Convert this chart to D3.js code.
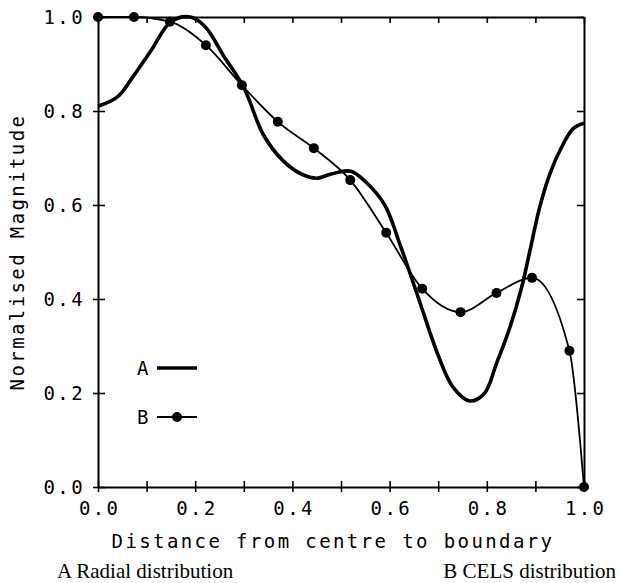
<!DOCTYPE html>
<html>
<head>
<meta charset="utf-8">
<script src="https://cdn.jsdelivr.net/npm/d3@7"></script>
<style>
    body { margin: 0; background: #fff; }
    svg { display: block; }
    .mono { font-family: "DejaVu Sans Mono", monospace; font-size: 19px; letter-spacing: 2.4px; fill: #000; }
    .cap { font-family: "Liberation Serif", "Times New Roman", serif; font-size: 21px; fill: #000; }
</style>
</head>
<body>
<div id="chart"></div>
<script>
// curve A - radial distribution (thick line)
const radialX = [0, 0.04, 0.07, 0.11, 0.15, 0.19, 0.22, 0.26, 0.30, 0.34, 0.38, 0.42, 0.45, 0.48, 0.52, 0.55, 0.59, 0.62, 0.66, 0.70, 0.73, 0.765, 0.795, 0.82, 0.848, 0.872, 0.889, 0.909, 0.93, 0.951, 0.978, 1.0]
const radialY = [0.81, 0.83, 0.87, 0.93, 0.99, 1.0, 0.98, 0.915, 0.85, 0.75, 0.695, 0.665, 0.657, 0.666, 0.672, 0.65, 0.60, 0.52, 0.40, 0.28, 0.213, 0.183, 0.199, 0.263, 0.341, 0.426, 0.504, 0.596, 0.667, 0.717, 0.763, 0.774]
// curve B - CELS distribution (thin line with dots)
const celsX = [0, 0.074, 0.148, 0.222, 0.296, 0.370, 0.444, 0.519, 0.593, 0.667, 0.746, 0.820, 0.893, 0.970, 1.0]
const celsY = [1.0, 1.0, 0.99, 0.94, 0.855, 0.777, 0.721, 0.653, 0.541, 0.422, 0.372, 0.413, 0.445, 0.290, 0.0]

const xTicks = [0, 0.1, 0.2, 0.3, 0.4, 0.5, 0.6, 0.7, 0.8, 0.9, 1.0]
const yTicks = [0, 0.2, 0.4, 0.6, 0.8, 1.0]
const legendLabels = ["A", "B"]

const drawChart = () => {
    const width = 620, height = 583
    const margin = ({ top: 17, right: 36, bottom: 96, left: 98 })

    const svg = d3.select("#chart").append("svg")
        .attr("width", width)
        .attr("height", height)

    const x = d3.scaleLinear()
        .domain([0, 1])
        .range([margin.left, width - margin.right])

    const y = d3.scaleLinear()
        .domain([0, 1])
        .range([height - margin.bottom, margin.top])

    const fmt = d => Math.round(d * 10) % 2 === 0 ? d3.format(".1f")(d) : ""

    // bottom axis, ticks cross the line
    svg.append("g")
        .attr("transform", `translate(0,${y(0)})`)
        .call(d3.axisBottom(x).tickValues(xTicks).tickFormat(fmt).tickSizeOuter(0))
        .call(g => g.selectAll(".tick line").attr("y1", -6).attr("y2", 5))
        .call(g => g.selectAll(".tick text").attr("class", "mono").attr("y", 28).attr("dy", null).attr("dx", 1.2))

    // left axis
    svg.append("g")
        .attr("transform", `translate(${x(0)},0)`)
        .call(d3.axisLeft(y).tickValues(yTicks).tickFormat(d3.format(".1f")).tickSizeOuter(0))
        .call(g => g.selectAll(".tick line").attr("x1", -5).attr("x2", 7))
        .call(g => g.selectAll(".tick text").attr("class", "mono").attr("x", -13).attr("dy", "0.36em"))

    // top axis, inward ticks
    svg.append("g")
        .attr("transform", `translate(0,${y(1)})`)
        .call(d3.axisTop(x).tickValues(xTicks).tickFormat("").tickSizeInner(-6).tickSizeOuter(0))

    // right axis, inward ticks
    svg.append("g")
        .attr("transform", `translate(${x(1)},0)`)
        .call(d3.axisRight(y).tickValues(yTicks).tickFormat("").tickSizeInner(-7).tickSizeOuter(0))

    svg.selectAll(".domain").attr("stroke", "#000").attr("stroke-width", 2)
    svg.selectAll(".tick line").attr("stroke", "#000").attr("stroke-width", 1.6)

    // axis titles
    svg.append("text")
        .attr("class", "mono")
        .attr("x", 333)
        .attr("y", 548)
        .attr("text-anchor", "middle")
        .text("Distance from centre to boundary")

    svg.append("text")
        .attr("class", "mono")
        .attr("transform", `translate(24,${(y(0) + y(1)) / 2}) rotate(-90)`)
        .attr("text-anchor", "middle")
        .text("Normalised Magnitude")

    // curves
    const radial = radialX.map((d, i) => ({ x: d, y: radialY[i] }))
    const cels = celsX.map((d, i) => ({ x: d, y: celsY[i] }))

    svg.append("path")
        .datum(cels)
        .attr("fill", "none")
        .attr("stroke", "#000")
        .attr("stroke-width", 1.8)
        .attr("d", d3.line().x(d => x(d.x)).y(d => y(d.y)).curve(d3.curveMonotoneX))

    svg.append("path")
        .datum(radial)
        .attr("fill", "none")
        .attr("stroke", "#000")
        .attr("stroke-width", 3.6)
        .attr("d", d3.line().x(d => x(d.x)).y(d => y(d.y)).curve(d3.curveCatmullRom.alpha(0.5)))

    svg.append("g")
        .selectAll("circle")
        .data(cels)
        .join("circle")
        .attr("cx", d => x(d.x))
        .attr("cy", d => y(d.y))
        .attr("r", 5)
        .attr("fill", "#000")

    // legend
    const legend = svg.append("g")
    legendLabels.forEach((lab, i) => {
        const ly = 368 + i * 49
        legend.append("text")
            .attr("class", "mono")
            .attr("x", 137)
            .attr("y", ly)
            .attr("dy", "0.36em")
            .text(lab)
        legend.append("line")
            .attr("x1", 157).attr("x2", 197)
            .attr("y1", ly).attr("y2", ly)
            .attr("stroke", "#000")
            .attr("stroke-width", i === 0 ? 3.6 : 1.8)
        if (i === 1) {
            legend.append("circle")
                .attr("cx", 177).attr("cy", ly).attr("r", 5).attr("fill", "#000")
        }
    })

    // captions
    svg.append("text")
        .attr("class", "cap")
        .attr("x", 57)
        .attr("y", 578)
        .text("A Radial distribution")

    svg.append("text")
        .attr("class", "cap")
        .attr("x", 616)
        .attr("y", 578)
        .attr("text-anchor", "end")
        .text("B CELS distribution")
}

drawChart()
</script>
</body>
</html>
